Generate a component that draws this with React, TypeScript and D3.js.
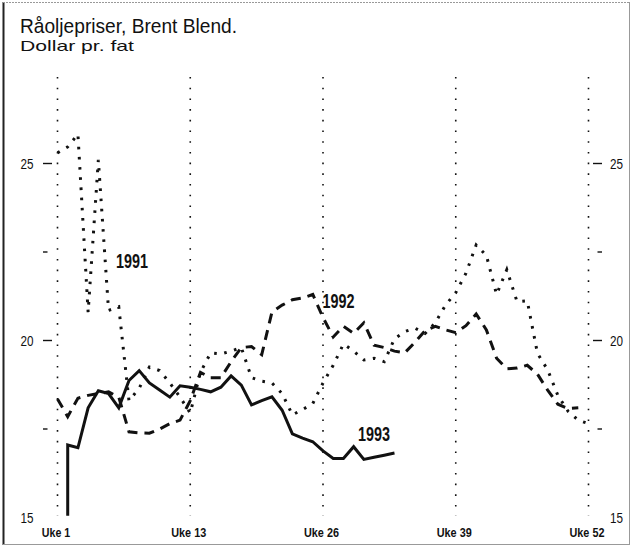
import React from "react";
import * as d3 from "d3";

const W = 632;
const H = 547;

const weeks1991 = d3.range(0, 53);
const values1991 = [
  25.3, 25.47, 25.83, 20.8, 25.1, 20.85, 20.95, 18.3, 18.65, 19.25,
  19.15, 18.8, 18.4, 17.95, 19.1, 19.65, 19.62, 19.7, 19.8, 18.95,
  18.85, 18.8, 18.5, 17.9, 18.05, 18.22, 18.8, 19.3, 19.9, 19.7,
  19.45, 19.5, 19.4, 20.05, 20.25, 20.35, 20.2, 20.5, 21.0, 21.35,
  21.9, 22.7, 22.4, 21.3, 22.0, 21.1, 21.12, 19.64, 19.17, 18.45,
  18.0, 17.75, 17.65,
];

const weeks1992 = d3.range(0, 52);
const values1992 = [
  18.35, 17.85, 18.37, 18.45, 18.5, 18.55, 18.4, 17.42, 17.39, 17.38,
  17.5, 17.65, 17.75, 18.3, 19.1, 18.95, 18.95, 19.4, 19.8, 19.83,
  19.6, 20.8, 21.0, 21.15, 21.2, 21.3, 20.65, 20.1, 20.4, 20.2,
  20.5, 19.87, 19.8, 19.7, 19.65, 19.95, 20.28, 20.4, 20.3, 20.22,
  20.42, 20.75, 20.3, 19.5, 19.2, 19.22, 19.3, 19.05, 18.6, 18.2,
  18.08, 18.1,
];

const weeks1993 = [1, ...d3.range(1, 34)];
const values1993 = [
  15.05, 17.05, 16.97, 18.1, 18.58, 18.5, 18.1, 18.87, 19.15, 18.8,
  18.6, 18.4, 18.72, 18.68, 18.62, 18.55, 18.68, 19.0, 18.74, 18.18,
  18.3, 18.41, 18.03, 17.36, 17.24, 17.14, 16.88, 16.67, 16.67, 17.0,
  16.64, 16.7, 16.76, 16.82,
];

const xTickValues = [0, 13, 26, 39, 52];
const xTickLabels = ["Uke 1", "Uke 13", "Uke 26", "Uke 39", "Uke 52"];
const yMajorTicks = [20, 25];
const yMinorTicks = [17.5, 22.5];
const yLabelValues = [15, 20, 25];

const seriesLabels = ["1991", "1992", "1993"];
const labelWeeks = [5.73, 25.95, 29.43];
const labelValues = [22.06, 20.93, 17.15];

const FONT = "'Liberation Sans', Arial, Helvetica, sans-serif";

export default function App() {
  const x = d3.scaleLinear().domain([0, 52]).range([57.5, 588.5]);
  const y = d3.scaleLinear().domain([15, 25]).range([517.5, 163.5]);

  const line = d3
    .line<[number, number]>()
    .x((d) => x(d[0]))
    .y((d) => y(d[1]));

  const p1991 = line(weeks1991.map((w, i) => [w, values1991[i]]) as [number, number][]) || "";
  const p1992 = line(weeks1992.map((w, i) => [w, values1992[i]]) as [number, number][]) || "";
  const p1993 = line(weeks1993.map((w, i) => [w, values1993[i]]) as [number, number][]) || "";

  const gridTop = 77;
  const gridBottom = 516;
  const leftAxisX = 43;
  const rightAxisX = 602;

  return (
    <svg
      width={W}
      height={H}
      viewBox={`0 0 ${W} ${H}`}
      style={{ position: "absolute", left: 0, top: 0, background: "#fff", display: "block" }}
    >
      <rect x={0} y={0} width={W} height={H} fill="#fff" />
      {/* frame */}
      <line x1={3.5} y1={2} x2={3.5} y2={H - 2} stroke="#222" strokeWidth={2} />
      <line x1={3} y1={2.5} x2={W - 2} y2={2.5} stroke="#999" strokeWidth={1} strokeDasharray="2 1" />
      <line x1={W - 2.5} y1={2} x2={W - 2.5} y2={H - 2} stroke="#999" strokeWidth={1} />
      <line x1={3} y1={H - 2.5} x2={W - 2} y2={H - 2.5} stroke="#999" strokeWidth={1} />

      {/* title */}
      <text x={20} y={33} fontFamily={FONT} fontSize={21} fill="#111" textLength={217} lengthAdjust="spacingAndGlyphs">
        Råoljepriser, Brent Blend.
      </text>
      <text x={20} y={51} fontFamily={FONT} fontSize={14.5} fill="#111" textLength={114} lengthAdjust="spacingAndGlyphs">
        Dollar pr. fat
      </text>

      {/* vertical dotted grid */}
      {xTickValues.map((v) => (
        <line
          key={"g" + v}
          x1={x(v)}
          x2={x(v)}
          y1={gridTop}
          y2={gridBottom}
          stroke="#111"
          strokeWidth={1.6}
          strokeDasharray="1.6 9.1"
        />
      ))}

      {/* x labels */}
      {xTickValues.map((v, i) => (
        <text
          key={"xl" + v}
          x={x(v) - 1.5 - (i === 0 ? 14.2 : 17.5)}
          y={537}
          fontFamily={FONT}
          fontWeight="bold"
          fontSize={13.5}
          fill="#111"
          textLength={i === 0 ? 28.4 : 35}
          lengthAdjust="spacingAndGlyphs"
        >
          {xTickLabels[i]}
        </text>
      ))}

      {/* y ticks */}
      {yMajorTicks.map((v) => (
        <g key={"ym" + v}>
          <line x1={leftAxisX} x2={leftAxisX + 9} y1={y(v)} y2={y(v)} stroke="#111" strokeWidth={1.4} />
          <line x1={rightAxisX - 9} x2={rightAxisX} y1={y(v)} y2={y(v)} stroke="#111" strokeWidth={1.4} />
        </g>
      ))}
      {yMinorTicks.map((v) => (
        <g key={"yn" + v}>
          <line x1={leftAxisX} x2={leftAxisX + 4.5} y1={y(v)} y2={y(v)} stroke="#111" strokeWidth={1.4} />
          <line x1={rightAxisX - 4.5} x2={rightAxisX} y1={y(v)} y2={y(v)} stroke="#111" strokeWidth={1.4} />
        </g>
      ))}
      {yLabelValues.map((v) => (
        <g key={"yl" + v}>
          <text x={20.5} y={y(v) + 5} fontFamily={FONT} fontSize={14} fill="#111" textLength={13} lengthAdjust="spacingAndGlyphs">
            {v}
          </text>
          <text x={610} y={y(v) + 5} fontFamily={FONT} fontSize={14} fill="#111" textLength={13} lengthAdjust="spacingAndGlyphs">
            {v}
          </text>
        </g>
      ))}

      {/* series */}
      <path d={p1991} fill="none" stroke="#111" strokeWidth={3} strokeDasharray="2.6 7.6" />
      <path d={p1992} fill="none" stroke="#111" strokeWidth={3} strokeDasharray="10 7" />
      <path d={p1993} fill="none" stroke="#111" strokeWidth={3} strokeLinejoin="miter" />

      {/* series labels */}
      {seriesLabels.map((s, i) => (
        <text
          key={s}
          x={x(labelWeeks[i])}
          y={y(labelValues[i])}
          fontFamily={FONT}
          fontWeight="bold"
          fontSize={20}
          fill="#111"
          textLength={32}
          lengthAdjust="spacingAndGlyphs"
        >
          {s}
        </text>
      ))}
    </svg>
  );
}
